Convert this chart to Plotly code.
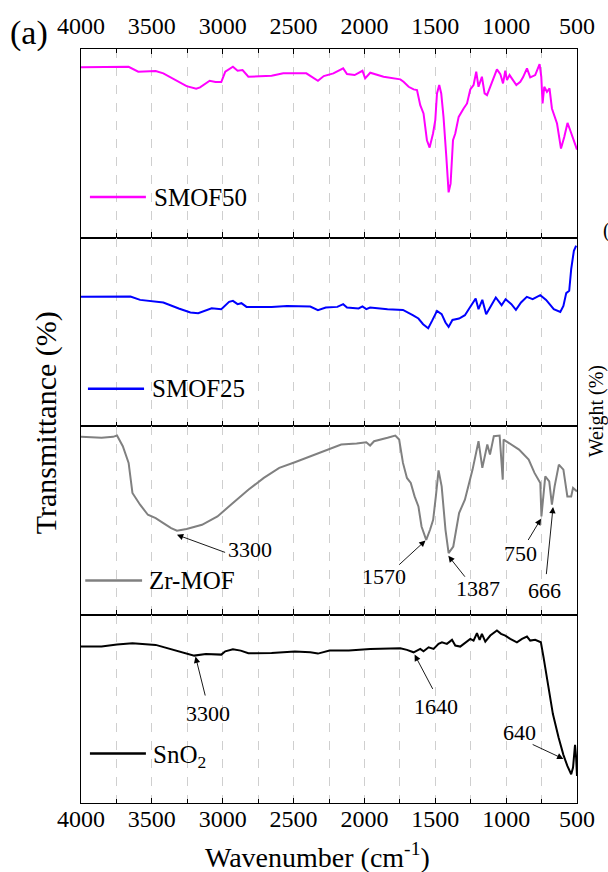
import plotly.graph_objects as go
from plotly.subplots import make_subplots

# ---------------- data (wavenumber in cm^-1, transmittance in a.u. per panel) -------------
wn_smof50 = [4000, 3664, 3596, 3473, 3419, 3310, 3255, 3187, 3160, 3092, 3051, 3010, 2982, 2928,
             2895, 2860, 2819, 2655, 2573, 2410, 2369, 2328, 2287, 2219, 2150, 2123, 2069, 2014,
             1995, 1959, 1865, 1747, 1724, 1688, 1653, 1629, 1606, 1583, 1559, 1540, 1516, 1500,
             1488, 1472, 1458, 1442, 1422, 1406, 1392, 1375, 1359, 1335, 1300, 1276, 1253, 1230,
             1211, 1195, 1171, 1152, 1135, 1112, 1065, 1041, 1022, 1006, 994, 976, 928, 900, 881,
             853, 830, 795, 764, 752, 743, 731, 712, 694, 677, 641, 613, 590, 567, 548, 536, 517, 500]
t_smof50 = [169.7, 170.3, 165.3, 166.0, 163.7, 155.3, 151.0, 148.3, 149.7, 156.3, 155.0, 155.0, 165.3, 170.3,
            166.3, 167.0, 160.3, 161.3, 163.7, 163.7, 159.7, 156.3, 161.0, 163.7, 168.7, 163.0, 162.0, 166.3,
            158.7, 164.3, 160.3, 157.7, 155.3, 150.3, 147.7, 147.0, 132.0, 123.7, 97.0, 89.7, 103.7, 117.0,
            143.7, 152.0, 143.7, 120.3, 80.3, 45.0, 53.7, 97.0, 103.7, 120.3, 128.7, 133.7, 147.7, 152.0,
            165.3, 150.3, 160.3, 143.7, 142.0, 150.3, 167.7, 163.0, 153.7, 166.3, 157.0, 162.0, 152.0, 155.3, 159.7,
            168.7, 159.7, 162.0, 173.0, 160.3, 133.7, 150.3, 145.3, 148.7, 128.7, 113.7, 88.7, 100.3, 114.3, 107.0,
            102.0, 93.7, 87.7]

wn_smof25 = [4000, 3746, 3651, 3583, 3419, 3310, 3228, 3173, 3119, 3078, 3010, 2955, 2928, 2895,
             2868, 2832, 2655, 2546, 2382, 2328, 2273, 2191, 2150, 2123, 2041, 2014, 1987, 1960,
             1837, 1728, 1659, 1619, 1586, 1550, 1523, 1488, 1455, 1428, 1406, 1379, 1332, 1291,
             1256, 1215, 1195, 1168, 1141, 1114, 1073, 1032, 1004, 963, 931, 895, 854, 813, 759,
             718, 664, 618, 596, 576, 555, 541, 522, 506]
t_smof25 = [128.8, 128.8, 129.2, 125.8, 123.2, 117.2, 113.2, 112.5, 115.8, 117.5, 116.5, 123.8, 124.8, 121.5,
            122.5, 118.8, 118.8, 119.8, 119.2, 115.5, 118.2, 118.8, 121.5, 118.2, 117.2, 119.2, 116.5, 118.2,
            116.5, 115.8, 110.5, 107.2, 101.5, 97.5, 104.8, 114.8, 111.5, 103.2, 98.8, 105.8, 107.2, 110.5,
            118.2, 127.2, 116.5, 125.8, 111.5, 118.2, 128.2, 120.5, 126.5, 121.5, 115.8, 123.2, 128.8, 126.5, 130.5,
            125.8, 116.5, 113.8, 119.8, 132.5, 134.8, 156.5, 174.8, 179.8]

wn_zrmof = [4000, 3855, 3774, 3746, 3705, 3664, 3637, 3583, 3528, 3473, 3419, 3364, 3323, 3255,
            3146, 3037, 2928, 2819, 2710, 2601, 2491, 2382, 2246, 2164, 2055, 1987, 1960, 1932,
            1837, 1782, 1755, 1728, 1700, 1673, 1646, 1619, 1597, 1564, 1537, 1515, 1496, 1477,
            1455, 1428, 1406, 1373, 1332, 1291, 1237, 1195, 1168, 1133, 1114, 1087, 1046, 1024,
            1018, 963, 909, 841, 800, 759, 751, 724, 696, 677, 658, 628, 596, 568, 541, 528, 500]
t_zrmof = [177.2, 176.2, 177.2, 178.5, 167.8, 151.2, 121.2, 109.5, 99.5, 96.2, 91.2, 86.2, 83.5, 85.2,
           89.5, 97.8, 111.2, 124.5, 136.2, 146.2, 151.8, 157.8, 165.2, 169.5, 170.5, 171.8, 168.5, 172.8,
           176.2, 178.5, 174.5, 151.2, 136.2, 131.2, 117.8, 107.8, 87.8, 74.5, 84.5, 94.5, 117.8, 143.8,
           127.8, 84.5, 61.2, 67.8, 101.2, 114.5, 144.5, 172.8, 146.2, 169.5, 159.5, 177.8, 178.5, 134.5,
           174.5, 169.5, 164.5, 154.5, 141.2, 131.2, 97.8, 137.8, 132.8, 109.5, 127.8, 149.5, 144.5, 117.8,
           117.8, 126.2, 122.8]

wn_sno2 = [4000, 3855, 3746, 3637, 3473, 3391, 3282, 3201, 3119, 3010, 2982, 2928, 2873, 2819,
           2655, 2491, 2382, 2328, 2246, 2110, 1959, 1747, 1700, 1653, 1629, 1606, 1583, 1547,
           1512, 1477, 1453, 1418, 1382, 1359, 1324, 1288, 1253, 1230, 1206, 1187, 1171, 1147,
           1112, 1065, 1036, 1006, 971, 924, 888, 853, 830, 795, 755, 736, 701, 670, 630, 596,
           568, 541, 528, 514, 506, 500]
t_sno2 = [156.0, 156.0, 158.0, 159.3, 157.7, 154.7, 150.3, 147.0, 148.7, 148.0, 151.3, 153.3, 152.0, 149.3,
          149.7, 151.0, 150.3, 149.0, 152.0, 152.0, 153.7, 154.3, 152.7, 150.3, 152.0, 153.7, 151.3, 155.3,
          153.7, 158.7, 160.3, 158.7, 162.7, 157.0, 156.0, 160.3, 163.7, 162.0, 169.3, 162.7, 168.7, 161.0,
          167.0, 172.0, 168.7, 167.0, 163.7, 160.3, 163.7, 166.0, 162.0, 162.7, 160.3, 145.3, 115.3, 88.7,
          65.3, 48.0, 37.0, 28.7, 35.3, 58.0, 45.0, 27.0]

series_names = ["SMOF50", "SMOF25", "Zr-MOF", "SnO<sub>2</sub>"]
series_colors = ["#FF00FF", "#0000FF", "#808080", "#000000"]
tick_vals = [4000, 3500, 3000, 2500, 2000, 1500, 1000, 500]
tick_text = ["4000", "3500", "3000", "2500", "2000", "1500", "1000", "500"]

# peak labels: (row, label, text_x, text_y, tail_x, tail_y, tip_x, tip_y)
peak_labels = [
    (3, "3300", 2805, 64.5, 2969, 61.2, 3323, 79.5),
    (3, "1570", 1864, 37.8, 1769, 47.8, 1569, 73.8),
    (3, "1387", 1196, 26.2, 1277, 35.2, 1408, 58.5),
    (3, "750", 896, 61.2, 855, 71.8, 754, 95.5),
    (3, "666", 732, 23.8, 718, 37.8, 669, 107.2),
    (4, "3300", 3105, 89.3, 3119, 104.7, 3192, 146.0),
    (4, "1640", 1496, 96.0, 1509, 111.3, 1646, 148.0),
    (4, "640", 909, 70.3, 827, 59.3, 596, 44.0),
]

# legend samples per panel: (x0, x1, y, text_x)
legend_pos = [(3937, 3542, 40.3, 3501), (3951, 3555, 37.2, 3514),
              (3970, 3569, 33.8, 3534), (3937, 3542, 49.3, 3506)]

FONT = "Times New Roman, Liberation Serif, DejaVu Serif, serif"

fig = make_subplots(rows=4, cols=1, vertical_spacing=0)
all_x = [wn_smof50, wn_smof25, wn_zrmof, wn_sno2]
all_y = [t_smof50, t_smof25, t_zrmof, t_sno2]
for i in range(4):
    fig.add_trace(go.Scatter(x=all_x[i], y=all_y[i], mode="lines",
                             line=dict(color=series_colors[i], width=2),
                             name=series_names[i], showlegend=False),
                  row=i + 1, col=1)

grid_col = "#cfcfcf"
for i in range(4):
    xa = dict(range=[4000, 500], tickmode="array", tickvals=tick_vals, ticktext=tick_text,
              ticks="inside", ticklen=5, tickwidth=1, tickcolor="black",
              showline=True, linecolor="black", linewidth=1.2, mirror=True,
              showgrid=True, gridcolor=grid_col, griddash="dash", gridwidth=1,
              zeroline=False,
              minor=dict(dtick=250, tick0=0, ticks="inside", ticklen=4, tickwidth=1,
                         tickcolor="black", showgrid=True, gridcolor=grid_col,
                         griddash="dash", gridwidth=1),
              tickfont=dict(family=FONT, size=24, color="black"),
              showticklabels=False)
    if i == 0:
        xa.update(side="top", mirror="ticks", showticklabels=True, ticklabelstandoff=4)
    if i == 3:
        xa.update(showticklabels=True, ticklabelstandoff=-6)
    fig.update_xaxes(xa, row=i + 1, col=1)
    fig.update_yaxes(range=[0, 188], showticklabels=False, ticks="", showgrid=False,
                     zeroline=False, showline=True, linecolor="black", linewidth=1.2,
                     mirror=True, row=i + 1, col=1)

annotations = []
shapes = []
for i in range(4):
    xr = "x" if i == 0 else f"x{i+1}"
    yr = "y" if i == 0 else f"y{i+1}"
    x0, x1, yy, tx = legend_pos[i]
    shapes.append(dict(type="line", xref=xr, yref=yr, x0=x0, x1=x1, y0=yy, y1=yy,
                       line=dict(color=series_colors[i], width=2.5)))
    annotations.append(dict(xref=xr, yref=yr, x=tx, y=yy - (3 if i == 3 else 0),
                            text=series_names[i], showarrow=False, xanchor="left",
                            yanchor="middle",
                            font=dict(family=FONT, size=25, color="black")))

for (row, lab, txx, tyy, ax_, ay_, px_, py_) in peak_labels:
    xr = f"x{row}"
    yr = f"y{row}"
    annotations.append(dict(xref=xr, yref=yr, x=px_, y=py_, ax=ax_, ay=ay_,
                            axref=xr, ayref=yr, text=" ", showarrow=True,
                            arrowhead=2, arrowsize=1.4, arrowwidth=0.9,
                            arrowcolor="black", standoff=0,
                            font=dict(family=FONT, size=2)))
    annotations.append(dict(xref=xr, yref=yr, x=txx, y=tyy, text=lab, showarrow=False,
                            xanchor="center", yanchor="middle",
                            font=dict(family=FONT, size=22, color="black")))

annotations += [
    dict(xref="paper", yref="paper", x=-0.07, y=0.504, text="Transmittance (%)",
         textangle=-90, showarrow=False, xanchor="center", yanchor="middle",
         font=dict(family=FONT, size=30, color="black")),
    dict(xref="paper", yref="paper", x=0.476, y=-0.0695,
         text="Wavenumber (cm<sup>-1</sup>)", showarrow=False, xanchor="center",
         yanchor="middle", font=dict(family=FONT, size=28, color="black")),
    dict(xref="paper", yref="paper", x=-0.104, y=1.0217, text="(a)", showarrow=False,
         xanchor="center", yanchor="middle",
         font=dict(family=FONT, size=34, color="black")),
    dict(xref="paper", yref="paper", x=1.041, y=0.52, text="Weight (%)", textangle=-90,
         showarrow=False, xanchor="center", yanchor="middle",
         font=dict(family=FONT, size=20, color="black")),
    dict(xref="paper", yref="paper", x=1.049, y=0.759, text="(b)", xanchor="left",
         yanchor="middle", showarrow=False,
         font=dict(family=FONT, size=20, color="black")),
]

fig.update_layout(width=608, height=872, margin=dict(l=81, r=31, t=49, b=69, pad=0),
                  plot_bgcolor="white", paper_bgcolor="white", showlegend=False,
                  annotations=annotations, shapes=shapes,
                  font=dict(family=FONT, color="black"))

fig.write_html("out.html")
